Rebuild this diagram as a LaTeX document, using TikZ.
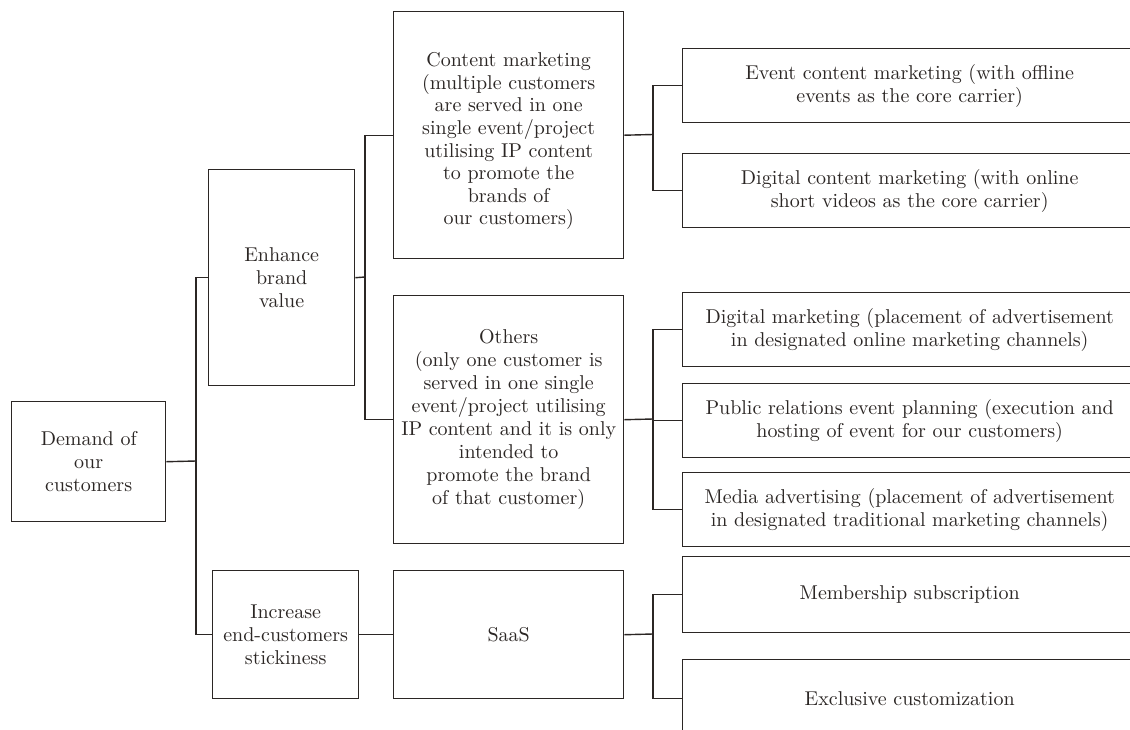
\documentclass[tikz,border=0pt]{standalone}
\usepackage{fontspec}
\setmainfont{lmroman10-regular}[Extension=.otf]
\usepackage{xcolor}
\definecolor{ln}{HTML}{2B2624}
\begin{document}
\begin{tikzpicture}[x=1pt,y=-1pt,
  box/.style={draw=ln, line width=1.4pt, text=ln, align=center, anchor=north west,
    inner sep=0pt, font=\fontsize{20}{23}\selectfont},
  txt/.style={text=ln, align=center, inner sep=0pt, font=\fontsize{20}{22.6}\selectfont},
  conn/.style={draw=ln, line width=1.4pt}]
\useasboundingbox (0,0) rectangle (1130,729);
\clip (0,0) rectangle (1130,729);
\fill[white] (0,0) rectangle (1130,729);
% level 1
\node[box, minimum width=154pt, minimum height=120pt] (demand) at (11,401) {Demand of\\our\\customers};
% level 2
\node[box, minimum width=146pt, minimum height=216pt] (enhance) at (208,169) {Enhance\\brand\\value};
\node[box, minimum width=146pt, minimum height=128pt] (increase) at (212,570) {Increase\\end-customers\\stickiness};
% level 3
\node[box, minimum width=230pt, minimum height=247pt] (content) at (393,11) {};
\node[txt, yshift=-6pt] (contenttext) at (content.center) {Content marketing\\(multiple customers\\are served in one\\single event/project\\utilising IP content\\to promote the\\brands of\\our customers)};
\node[box, minimum width=230pt, minimum height=248pt] (others) at (393,295) {Others\\(only one customer is\\served in one single\\event/project utilising\\IP content and it is only\\intended to\\promote the brand\\of that customer)};
\node[box, minimum width=230pt, minimum height=128pt] (saas) at (393,570) {SaaS};
% level 4
\node[box, minimum width=454pt, minimum height=74pt] (event) at (682,48) {Event content marketing (with offline\\events as the core carrier)};
\node[box, minimum width=454pt, minimum height=74pt] (digcontent) at (682,153) {Digital content marketing (with online\\short videos as the core carrier)};
\node[box, minimum width=454pt, minimum height=74pt] (digmkt) at (682,292) {Digital marketing (placement of advertisement\\in designated online marketing channels)};
\node[box, minimum width=454pt, minimum height=74pt] (pr) at (682,383) {Public relations event planning (execution and\\hosting of event for our customers)};
\node[box, minimum width=454pt, minimum height=74pt] (media) at (682,472) {Media advertising (placement of advertisement\\in designated traditional marketing channels)};
\node[box, minimum width=454pt, minimum height=76pt] (member) at (682,556) {Membership subscription};
\node[box, minimum width=454pt, minimum height=78pt] (exclusive) at (682,659) {Exclusive customization};
% junctions
\coordinate (j1) at (196,461);
\coordinate (j2) at (365,277);
\coordinate (j3) at (653,134.5);
\coordinate (j4) at (653,419);
\coordinate (j5) at (653,634);
% connectors
\draw[conn] (demand.east) -- (j1);
\draw[conn] (enhance.west) -| (j1) |- (increase.west);
\draw[conn] (enhance.east) -- (j2);
\draw[conn] (content.west) -| (j2) |- (others.west);
\draw[conn] (increase.east) -- (saas.west);
\draw[conn] (content.east) -- (j3);
\draw[conn] (event.west) -| (j3) |- (digcontent.west);
\draw[conn] (others.east) -- (j4);
\draw[conn] (digmkt.west) -| (j4) |- (media.west);
\draw[conn] (pr.west) -- (pr.west -| j4);
\draw[conn] (saas.east) -- (j5);
\draw[conn] (member.west) -| (j5) |- (exclusive.west);
\end{tikzpicture}
\end{document}
